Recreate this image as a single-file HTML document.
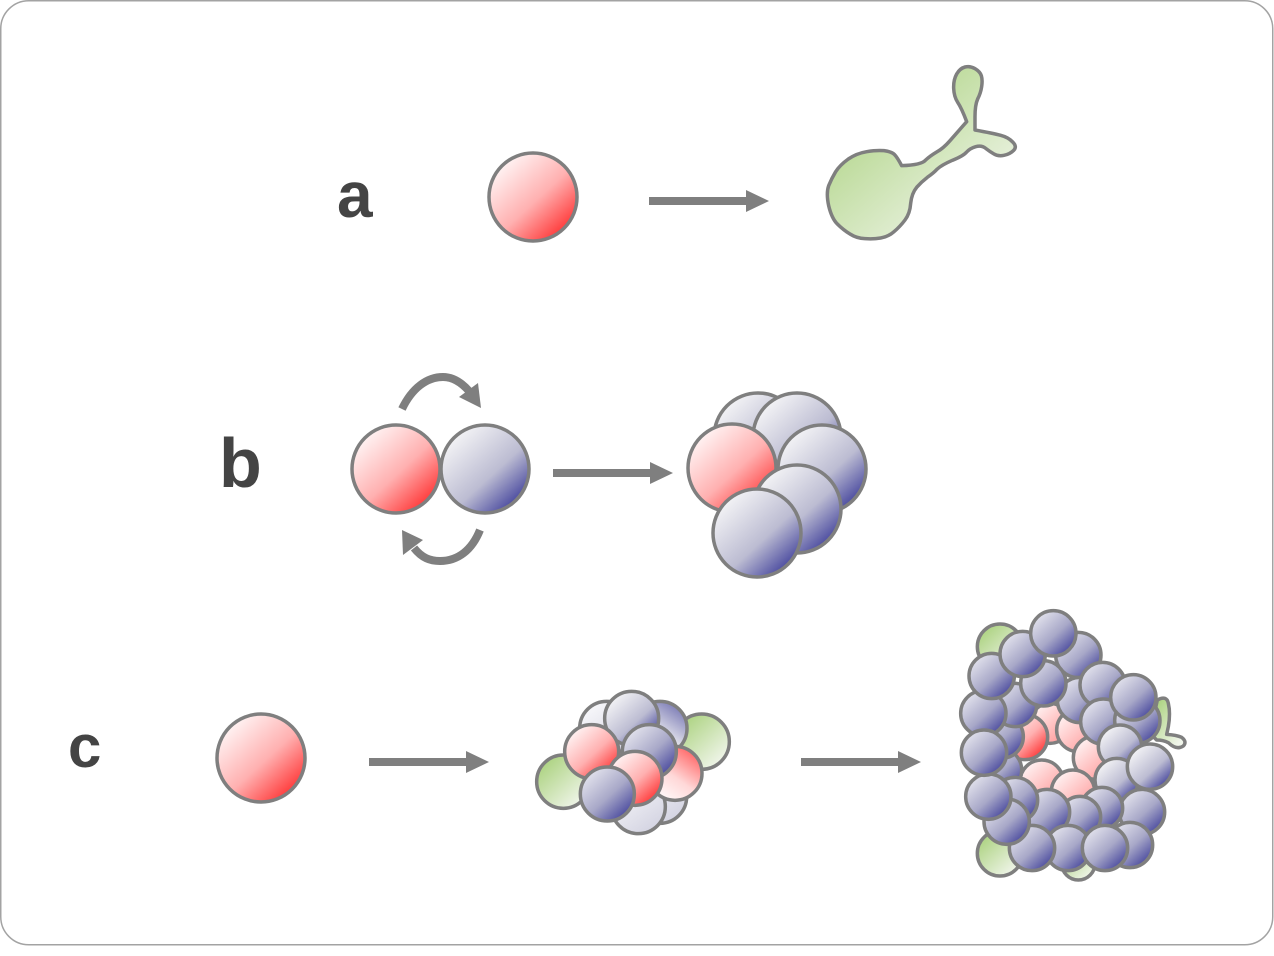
<!DOCTYPE html>
<html><head><meta charset="utf-8">
<style>
html,body{margin:0;padding:0;background:#fff;width:1274px;height:956px;overflow:hidden}
svg{display:block}
text{font-family:"Liberation Sans",sans-serif;font-weight:bold;fill:#444}
.r{fill:url(#red)}.b{fill:url(#blue)}.d{fill:url(#deep)}.g{fill:url(#green)}.p{fill:url(#pale)}.q{fill:url(#redrev)}.h{fill:url(#bluerev)}.m{fill:url(#mild)}
.s circle,.s path{stroke:#7f7f7f;stroke-linejoin:round}
.t circle{stroke-width:3.5}
.u circle,.u path{stroke-width:10.5}
</style></head><body>
<svg width="1274" height="956" viewBox="0 0 1274 956" xmlns="http://www.w3.org/2000/svg">
<defs>
<linearGradient id="red" x1=".15" y1=".12" x2=".85" y2=".88"><stop offset="0" stop-color="#fff4f4"/><stop offset=".55" stop-color="#ffb0b0"/><stop offset="1" stop-color="#ff3a3a"/></linearGradient>
<linearGradient id="mild" x1=".15" y1=".12" x2=".85" y2=".88"><stop offset="0" stop-color="#fff2f2"/><stop offset="1" stop-color="#ff9c9c"/></linearGradient>
<linearGradient id="redrev" x1=".85" y1=".12" x2=".3" y2=".9"><stop offset="0" stop-color="#ff6a6a"/><stop offset=".6" stop-color="#ffd8d8"/><stop offset="1" stop-color="#fff4f4"/></linearGradient>
<linearGradient id="blue" x1=".15" y1=".12" x2=".85" y2=".88"><stop offset="0" stop-color="#f4f4f6"/><stop offset=".6" stop-color="#bcbcd2"/><stop offset="1" stop-color="#4a4a9f"/></linearGradient>
<linearGradient id="deep" x1=".15" y1=".12" x2=".85" y2=".88"><stop offset="0" stop-color="#e2e2ec"/><stop offset=".55" stop-color="#a8a8c8"/><stop offset="1" stop-color="#4c4c9f"/></linearGradient>
<linearGradient id="bluerev" x1=".85" y1=".1" x2=".3" y2=".9"><stop offset="0" stop-color="#7c7cb6"/><stop offset=".6" stop-color="#e0e0ea"/><stop offset="1" stop-color="#f4f4f7"/></linearGradient>
<linearGradient id="pale" x1=".2" y1=".1" x2=".8" y2=".9"><stop offset="0" stop-color="#f7f7fa"/><stop offset="1" stop-color="#d4d4e2"/></linearGradient>
<linearGradient id="green" x1=".15" y1=".12" x2=".85" y2=".88"><stop offset="0" stop-color="#add382"/><stop offset="1" stop-color="#f0f5ea"/></linearGradient>
</defs>

<rect x=".75" y=".75" width="1272" height="944" rx="28" fill="#fff" stroke="#a3a3a3" stroke-width="1.5"/>

<text x="337" y="217" font-size="64">a</text>
<text x="219" y="487" font-size="70">b</text>
<text x="68" y="767" font-size="60">c</text>

<!-- straight arrows -->
<g fill="#7f7f7f">
<path d="M649 197H746V190L769 201 746 212V205H649Z"/>
<path d="M553 469H650V462L673 473 650 484V477H553Z"/>
<path d="M369 758H466V751L489 762 466 773V766H369Z"/>
<path d="M801 758H898V751L921 762 898 773V766H801Z"/>
</g>

<g class="s t">
<circle class="r" cx="533" cy="197" r="44"/>
<circle class="r" cx="396" cy="469" r="44"/>
<circle class="b" cx="485" cy="469" r="44"/>
<circle class="r" cx="261" cy="758" r="44"/>
</g>

<!-- green cell a -->
<g class="s u" transform="translate(810,50) scale(.33333)">
<path class="g" d="M170 305Q200 300 222 302Q245 305 253 313Q262 322 275 347Q335 345 347 330Q360 318 380 306Q400 295 420 272L470 215Q455 175 443 157Q432 140 431 115Q430 90 440 72Q450 55 465 51Q480 47 495 56Q510 65 514 77Q518 90 515 110Q512 130 503 147Q495 165 495 200L495 240Q550 250 572 256Q595 262 608 276Q622 290 611 301Q600 312 582 316Q565 320 552 312Q540 305 527 295Q515 285 497 290Q480 295 470 306Q460 318 427 331Q395 345 382 357Q370 370 352 382Q335 395 320 412Q305 430 302 460Q300 490 285 510Q270 530 252 545Q235 560 212 564Q190 568 165 566Q140 565 120 552Q100 540 82 522Q65 505 56 467Q48 430 56 407Q65 385 77 365Q90 345 115 327Q140 310 170 305Z"/>
</g>

<!-- curved arrows -->
<g fill="none" stroke="#7f7f7f" stroke-width="8">
<path d="M402 409C412 388 427 377 443 377 453 377 461 382 469 391"/>
<path d="M480 530C472 550 458 561 440 561 430 561 422 558 414 548"/>
</g>
<g fill="#7f7f7f">
<path d="M481 408L478 383 459 397Z"/>
<path d="M402 530L403 555 423 540Z"/>
</g>

<!-- cluster b -->
<g class="s t">
<circle class="b" cx="758" cy="437" r="44"/>
<circle class="b" cx="797" cy="437" r="44"/>
<circle class="b" cx="822" cy="469" r="44"/>
<circle class="r" cx="732" cy="468" r="44"/>
<circle class="b" cx="797" cy="509" r="44"/>
<circle class="b" cx="757" cy="533" r="44"/>
</g>

<!-- cluster c2 -->
<g class="s u" transform="translate(520,670) scale(.33333)">
<circle class="g" cx="130" cy="335" r="80"/>
<circle class="g" cx="545" cy="215" r="83"/>
<circle class="p" cx="260" cy="175" r="81"/>
<circle class="h" cx="420" cy="175" r="81"/>
<circle class="p" cx="420" cy="380" r="80"/>
<circle class="p" cx="355" cy="410" r="81"/>
<circle class="q" cx="465" cy="310" r="81"/>
<circle class="b" cx="335" cy="145" r="81"/>
<circle class="r" cx="215" cy="245" r="81"/>
<circle class="d" cx="388" cy="245" r="81"/>
<circle class="r" cx="345" cy="325" r="81"/>
<circle class="d" cx="262" cy="372" r="81"/>
</g>

<!-- cluster c3 -->
<g class="s u" transform="translate(950,600) scale(.33333)">
<circle class="g" cx="150" cy="140" r="68"/>
<circle class="g" cx="150" cy="760" r="68"/>
<circle class="g" cx="385" cy="790" r="50"/>
<path class="g" d="M622 300Q650 285 655 310Q662 340 655 380L650 403Q680 405 695 412Q712 425 700 438Q680 452 655 428Q640 420 620 420L600 400Z"/>

<circle class="m" cx="300" cy="370" r="60"/>
<circle class="m" cx="385" cy="390" r="65"/>
<circle class="m" cx="435" cy="473" r="65"/>
<circle class="r" cx="225" cy="411" r="68"/>
<circle class="m" cx="275" cy="545" r="65"/>
<circle class="m" cx="369" cy="575" r="65"/>

<circle class="d" cx="385" cy="165" r="68"/>
<circle class="d" cx="150" cy="510" r="65"/>
<circle class="d" cx="155" cy="410" r="65"/>
<circle class="d" cx="195" cy="315" r="65"/>
<circle class="d" cx="390" cy="300" r="68"/>
<circle class="d" cx="280" cy="250" r="68"/>
<circle class="d" cx="458" cy="255" r="68"/>
<circle class="d" cx="460" cy="365" r="68"/>
<circle class="d" cx="562" cy="362" r="68"/>
<circle class="b" cx="510" cy="440" r="65"/>
<circle class="b" cx="500" cy="540" r="65"/>
<circle class="d" cx="576" cy="636" r="68"/>
<circle class="b" cx="600" cy="500" r="68"/>
<circle class="d" cx="456" cy="624" r="62"/>
<circle class="d" cx="390" cy="651" r="62"/>
<circle class="d" cx="291" cy="636" r="68"/>
<circle class="d" cx="195" cy="600" r="68"/>
<circle class="d" cx="540" cy="735" r="68"/>
<circle class="d" cx="354" cy="744" r="68"/>
<circle class="d" cx="465" cy="744" r="68"/>
<circle class="d" cx="246" cy="744" r="68"/>
<circle class="d" cx="170" cy="665" r="68"/>
<circle class="d" cx="115" cy="590" r="68"/>
<circle class="d" cx="100" cy="340" r="68"/>
<circle class="d" cx="102" cy="458" r="68"/>
<circle class="d" cx="125" cy="228" r="68"/>
<circle class="d" cx="218" cy="162" r="68"/>
<circle class="d" cx="550" cy="292" r="68"/>
<circle class="d" cx="310" cy="100" r="68"/>
</g>
</svg>
</body></html>
